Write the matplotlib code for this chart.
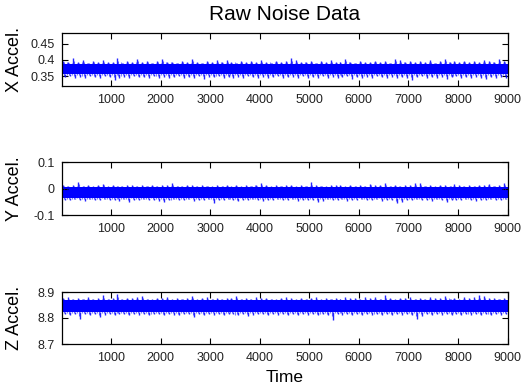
import matplotlib
matplotlib.use("Agg")
import matplotlib.pyplot as plt
import numpy as np

plt.rcParams['font.family'] = ['Liberation Sans', 'DejaVu Sans']

# Time axis: 90 bins of 100 samples each (0..9000)
bin_size = 100
n_bins = 90

# Per-bin extremes
X_hi = [0.398,0.393,0.405,0.395,0.401,0.392,0.396,0.394,0.399,0.393,
        0.395,0.406,0.392,0.397,0.394,0.402,0.393,0.396,0.392,0.398,
        0.404,0.394,0.395,0.391,0.397,0.393,0.403,0.395,0.392,0.396,
        0.394,0.400,0.393,0.401,0.395,0.392,0.397,0.394,0.396,0.393,
        0.399,0.394,0.392,0.396,0.395,0.398,0.405,0.400,0.393,0.395,
        0.397,0.392,0.396,0.394,0.399,0.393,0.395,0.404,0.394,0.392,
        0.397,0.395,0.393,0.398,0.394,0.396,0.392,0.403,0.401,0.394,
        0.396,0.393,0.397,0.395,0.399,0.392,0.396,0.404,0.394,0.397,
        0.393,0.398,0.395,0.397,0.394,0.401,0.396,0.394,0.402,0.398]
X_lo = [0.347,0.350,0.345,0.349,0.346,0.351,0.348,0.344,0.350,0.347,
        0.338,0.346,0.349,0.345,0.350,0.347,0.348,0.344,0.351,0.346,
        0.349,0.345,0.347,0.350,0.344,0.348,0.346,0.351,0.343,0.349,
        0.347,0.350,0.345,0.348,0.346,0.349,0.344,0.350,0.347,0.345,
        0.349,0.346,0.348,0.350,0.344,0.347,0.349,0.345,0.351,0.346,
        0.348,0.344,0.350,0.346,0.349,0.345,0.347,0.350,0.343,0.348,
        0.346,0.349,0.344,0.350,0.347,0.345,0.349,0.346,0.348,0.344,
        0.337,0.347,0.350,0.345,0.348,0.346,0.349,0.343,0.347,0.350,
        0.345,0.348,0.346,0.349,0.344,0.340,0.347,0.345,0.349,0.346]
X_core = [0.356, 0.389]

Y_hi = [0.012,0.009,0.014,0.026,0.011,0.013,0.008,0.012,0.018,0.010,
        0.013,0.011,0.009,0.014,0.012,0.010,0.015,0.011,0.013,0.009,
        0.012,0.014,0.022,0.011,0.010,0.013,0.012,0.009,0.015,0.011,
        0.010,0.013,0.011,0.014,0.009,0.012,0.010,0.013,0.011,0.015,
        0.019,0.012,0.010,0.013,0.011,0.014,0.012,0.009,0.013,0.011,
        0.024,0.014,0.011,0.010,0.013,0.012,0.015,0.010,0.012,0.011,
        0.013,0.009,0.018,0.012,0.014,0.020,0.011,0.013,0.010,0.012,
        0.014,0.022,0.019,0.011,0.013,0.010,0.012,0.014,0.011,0.017,
        0.012,0.010,0.013,0.011,0.014,0.012,0.016,0.011,0.013,0.020]
Y_lo = [-0.042,-0.045,-0.040,-0.044,-0.046,-0.041,-0.043,-0.045,-0.040,-0.044,
        -0.042,-0.046,-0.041,-0.052,-0.043,-0.045,-0.040,-0.044,-0.042,-0.046,
        -0.050,-0.043,-0.041,-0.045,-0.044,-0.040,-0.046,-0.042,-0.044,-0.041,
        -0.053,-0.043,-0.045,-0.040,-0.044,-0.048,-0.042,-0.045,-0.041,-0.043,
        -0.046,-0.042,-0.044,-0.040,-0.045,-0.043,-0.041,-0.046,-0.042,-0.044,
        -0.043,-0.050,-0.047,-0.041,-0.045,-0.043,-0.040,-0.046,-0.042,-0.044,
        -0.041,-0.045,-0.043,-0.040,-0.046,-0.042,-0.044,-0.055,-0.050,-0.043,
        -0.045,-0.041,-0.044,-0.042,-0.046,-0.040,-0.043,-0.050,-0.044,-0.042,
        -0.045,-0.041,-0.043,-0.046,-0.042,-0.044,-0.040,-0.045,-0.043,-0.041]
Y_core = [-0.036, 0.005]

Z_hi = [8.876,8.879,8.874,8.877,8.875,8.880,8.873,8.876,8.888,8.875,
        8.878,8.892,8.874,8.877,8.876,8.879,8.884,8.875,8.873,8.877,
        8.876,8.880,8.874,8.878,8.875,8.877,8.886,8.874,8.876,8.879,
        8.875,8.877,8.873,8.878,8.876,8.883,8.875,8.877,8.874,8.879,
        8.876,8.878,8.875,8.873,8.877,8.880,8.876,8.874,8.878,8.875,
        8.877,8.879,8.874,8.876,8.875,8.878,8.873,8.880,8.876,8.877,
        8.874,8.879,8.876,8.881,8.875,8.888,8.877,8.874,8.878,8.876,
        8.879,8.875,8.877,8.874,8.880,8.876,8.878,8.885,8.875,8.877,
        8.874,8.879,8.876,8.880,8.887,8.884,8.876,8.878,8.875,8.877]
Z_lo = [8.815,8.812,8.817,8.795,8.814,8.811,8.816,8.804,8.813,8.815,
        8.812,8.817,8.814,8.810,8.816,8.813,8.815,8.811,8.814,8.816,
        8.812,8.815,8.813,8.810,8.816,8.814,8.803,8.815,8.812,8.817,
        8.813,8.815,8.811,8.814,8.816,8.812,8.815,8.806,8.813,8.816,
        8.814,8.811,8.815,8.813,8.816,8.812,8.814,8.810,8.815,8.813,
        8.816,8.812,8.814,8.811,8.793,8.815,8.813,8.816,8.812,8.814,
        8.811,8.815,8.813,8.816,8.812,8.814,8.810,8.815,8.813,8.816,
        8.812,8.797,8.808,8.814,8.811,8.815,8.813,8.816,8.812,8.814,
        8.810,8.815,8.813,8.816,8.812,8.814,8.811,8.815,8.813,8.816]
Z_core = [8.822, 8.868]

x_ticks = [1000, 2000, 3000, 4000, 5000, 6000, 7000, 8000, 9000]
x_ticklabels = ['1000', '2000', '3000', '4000', '5000', '6000', '7000', '8000', '9000']

panels = [
    dict(hi=X_hi, lo=X_lo, core=X_core, ylim=(0.32, 0.483),
         yticks=[0.35, 0.4, 0.45], yticklabels=['0.35', '0.4', '0.45'], ylabel='X Accel.'),
    dict(hi=Y_hi, lo=Y_lo, core=Y_core, ylim=(-0.1, 0.1),
         yticks=[-0.1, 0, 0.1], yticklabels=['-0.1', '0', '0.1'], ylabel='Y Accel.'),
    dict(hi=Z_hi, lo=Z_lo, core=Z_core, ylim=(8.7, 8.9),
         yticks=[8.7, 8.8, 8.9], yticklabels=['8.7', '8.8', '8.9'], ylabel='Z Accel.'),
]

W, H = 521, 390
fig = plt.figure(figsize=(W / 100, H / 100), dpi=100)
fig.patch.set_facecolor('white')

boxes = [(33, 86), (162, 215), (292, 344)]
left_px, right_px = 61.5, 507.5

blue = '#0000ff'
starts = np.arange(n_bins) * bin_size

for (top, bot), p in zip(boxes, panels):
    ax = fig.add_axes([left_px / W, 1 - bot / H, (right_px - left_px) / W, (bot - top) / H])
    c_lo, c_hi = p['core']
    ax.fill_between([0, 9000], [c_lo] * 2, [c_hi] * 2, color=blue, linewidth=0)
    # upward and downward excursions of each bin, at separate positions
    ax.vlines(starts + 30, [c_hi] * n_bins, p['hi'], color=blue, linewidth=1.0, alpha=0.85)
    ax.vlines(starts + 70, p['lo'], [c_lo] * n_bins, color=blue, linewidth=1.0, alpha=0.85)
    ax.vlines(starts + 50, [c_lo - (c_lo - l) * 0.5 for l in p['lo']],
              [c_hi + (h - c_hi) * 0.5 for h in p['hi']], color=blue, linewidth=0.8, alpha=0.6)
    ax.vlines(starts + 10, [c_lo - (c_lo - l) * 0.3 for l in p['lo'][::-1]],
              [c_hi + (h - c_hi) * 0.35 for h in p['hi'][::-1]], color=blue, linewidth=0.8, alpha=0.5)
    ax.set_xlim(0, 9000)
    ax.set_ylim(*p['ylim'])
    ax.set_xticks(x_ticks)
    ax.set_xticklabels(x_ticklabels)
    ax.set_yticks(p['yticks'])
    ax.set_yticklabels(p['yticklabels'])
    ax.tick_params(direction='in', length=4, width=0.8, top=True, right=True,
                   labelsize=9, labelcolor='#222222')
    ax.tick_params(axis='x', pad=6)
    ax.tick_params(axis='y', pad=5)
    for s in ax.spines.values():
        s.set_linewidth(0.9)
        s.set_color('#000000')
    ax.set_ylabel(p['ylabel'], fontsize=13)
    ax.yaxis.set_label_coords(-0.086, 0.5)
    if p is panels[0]:
        ax.set_title('Raw Noise Data', fontsize=15, pad=9)
    if p is panels[-1]:
        ax.set_xlabel('Time', fontsize=12.5, labelpad=4)

fig.savefig('out.png', dpi=100)
